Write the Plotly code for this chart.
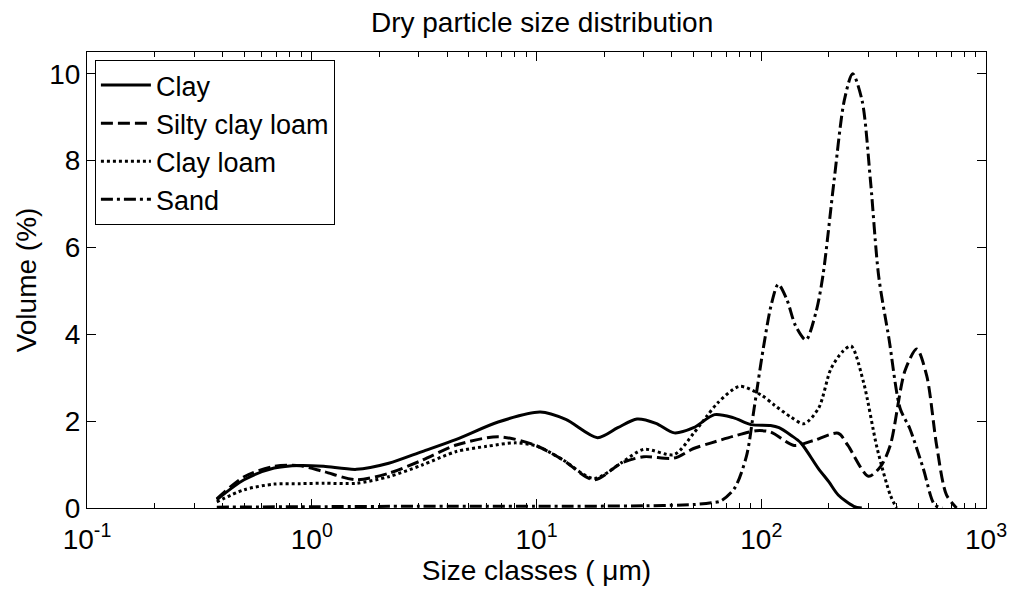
import plotly.graph_objects as go

# ---- data ----
clay_x = [0.378, 0.5, 0.68, 0.89, 1.13, 1.58, 2.2, 3.1, 4.4, 6.75, 10.4, 13.5, 18.7, 23, 28, 34, 41, 50, 62, 75, 90, 110, 120, 136, 150, 179, 200, 220, 258, 280]
clay_y = [0.19, 0.65, 0.92, 0.98, 0.96, 0.89, 1.03, 1.3, 1.58, 1.98, 2.21, 2.04, 1.62, 1.85, 2.05, 1.95, 1.73, 1.85, 2.15, 2.08, 1.92, 1.9, 1.85, 1.67, 1.5, 0.92, 0.6, 0.3, 0.04, 0.0]

silty_x = [0.378, 0.5, 0.68, 0.89, 1.13, 1.58, 2.2, 3.1, 4.4, 6.75, 9.7, 13, 18, 24, 30, 41, 50, 60, 75, 95, 110, 140, 170, 220, 243, 300, 340, 375, 436, 492, 545, 603, 667, 740]
silty_y = [0.21, 0.72, 0.96, 0.97, 0.84, 0.65, 0.80, 1.1, 1.45, 1.64, 1.46, 1.12, 0.65, 1.04, 1.18, 1.15, 1.37, 1.5, 1.65, 1.78, 1.75, 1.44, 1.55, 1.72, 1.44, 0.73, 0.96, 1.44, 3.16, 3.66, 3.04, 1.44, 0.3, 0.0]

loam_x = [0.378, 0.5, 0.68, 0.89, 1.13, 1.58, 2.2, 3.1, 4.4, 6.0, 8.1, 10.1, 13, 18, 24, 30, 41, 50, 57, 64, 80, 100, 115, 135, 155, 180, 204, 230, 251, 285, 328, 375, 400]
loam_y = [0.14, 0.42, 0.55, 0.56, 0.57, 0.57, 0.72, 0.99, 1.3, 1.42, 1.5, 1.42, 1.12, 0.68, 1.05, 1.35, 1.23, 1.72, 2.1, 2.42, 2.8, 2.6, 2.36, 2.1, 1.94, 2.3, 3.2, 3.6, 3.73, 2.9, 1.37, 0.3, 0.0]

sand_x = [0.378, 1, 3, 10, 30, 50, 60, 66, 76, 86, 93, 102, 111, 119, 130, 142, 158, 175, 188, 211, 234, 255, 281, 306, 333, 370, 415, 458, 525, 590, 640]
sand_y = [0.02, 0.03, 0.04, 0.04, 0.05, 0.08, 0.12, 0.16, 0.45, 1.2, 2.3, 3.66, 4.7, 5.15, 4.8, 4.2, 3.87, 4.5, 5.34, 7.55, 9.38, 10.0, 9.38, 7.55, 5.34, 3.9, 2.29, 1.83, 0.92, 0.08, 0.0]

series_names = ["Clay", "Silty clay loam", "Clay loam", "Sand"]
series_dash = ["solid", "12px,5px", "3px,3px", "12px,4px,3px,4px"]

x_tick_vals = [0.1, 1, 10, 100, 1000]
x_tick_text = ["10<sup>-1</sup>", "10<sup>0</sup>", "10<sup>1</sup>", "10<sup>2</sup>", "10<sup>3</sup>"]
x_minor_vals = [m * d for d in [0.1, 1, 10, 100] for m in range(2, 10)]
y_tick_vals = [0, 2, 4, 6, 8, 10]

FONT = "Liberation Sans, Arial, sans-serif"

fig = go.Figure()
for xs, ys, name, dash in zip([clay_x, silty_x, loam_x, sand_x],
                              [clay_y, silty_y, loam_y, sand_y],
                              series_names, series_dash):
    fig.add_trace(go.Scatter(x=xs, y=ys, name=name, mode="lines",
                             line=dict(color="black", width=3, dash=dash,
                                       shape="spline", smoothing=0.8)))

axis_common = dict(showline=True, linecolor="black", linewidth=1, mirror="allticks",
                   ticks="inside", tickcolor="black", showgrid=False, zeroline=False,
                   tickfont=dict(family=FONT, size=28, color="black"))

fig.update_xaxes(type="log", range=[-1, 3], tickmode="array", tickvals=x_tick_vals,
                 ticktext=x_tick_text, ticklen=9, ticklabelstandoff=6,
                 minor=dict(ticks="inside", ticklen=5, tickcolor="black",
                            tickmode="array", tickvals=x_minor_vals, showgrid=False),
                 title=dict(text="Size classes ( μm)", font=dict(family=FONT, size=28, color="black"),
                            standoff=4),
                 **axis_common)
fig.update_yaxes(range=[0, 10.5], tickmode="array", tickvals=y_tick_vals, ticklen=9,
                 title=dict(text="Volume (%)", font=dict(family=FONT, size=28, color="black"),
                            standoff=4),
                 **axis_common)

fig.update_layout(
    width=1019, height=590,
    margin=dict(l=87, r=22, t=52, b=80),
    paper_bgcolor="white", plot_bgcolor="white",
    title=dict(text="Dry particle size distribution", x=0.532, xanchor="center",
               y=1 - 22 / 590, yanchor="middle", yref="container",
               font=dict(family=FONT, size=28, color="black")),
    legend=dict(x=0.0088, y=0.9825, xanchor="left", yanchor="top",
                bgcolor="white", bordercolor="black", borderwidth=1,
                font=dict(family=FONT, size=27, color="black"),
                itemwidth=50, tracegroupgap=0),
    showlegend=True,
    hovermode=False,
)

fig.write_html("out.html")
